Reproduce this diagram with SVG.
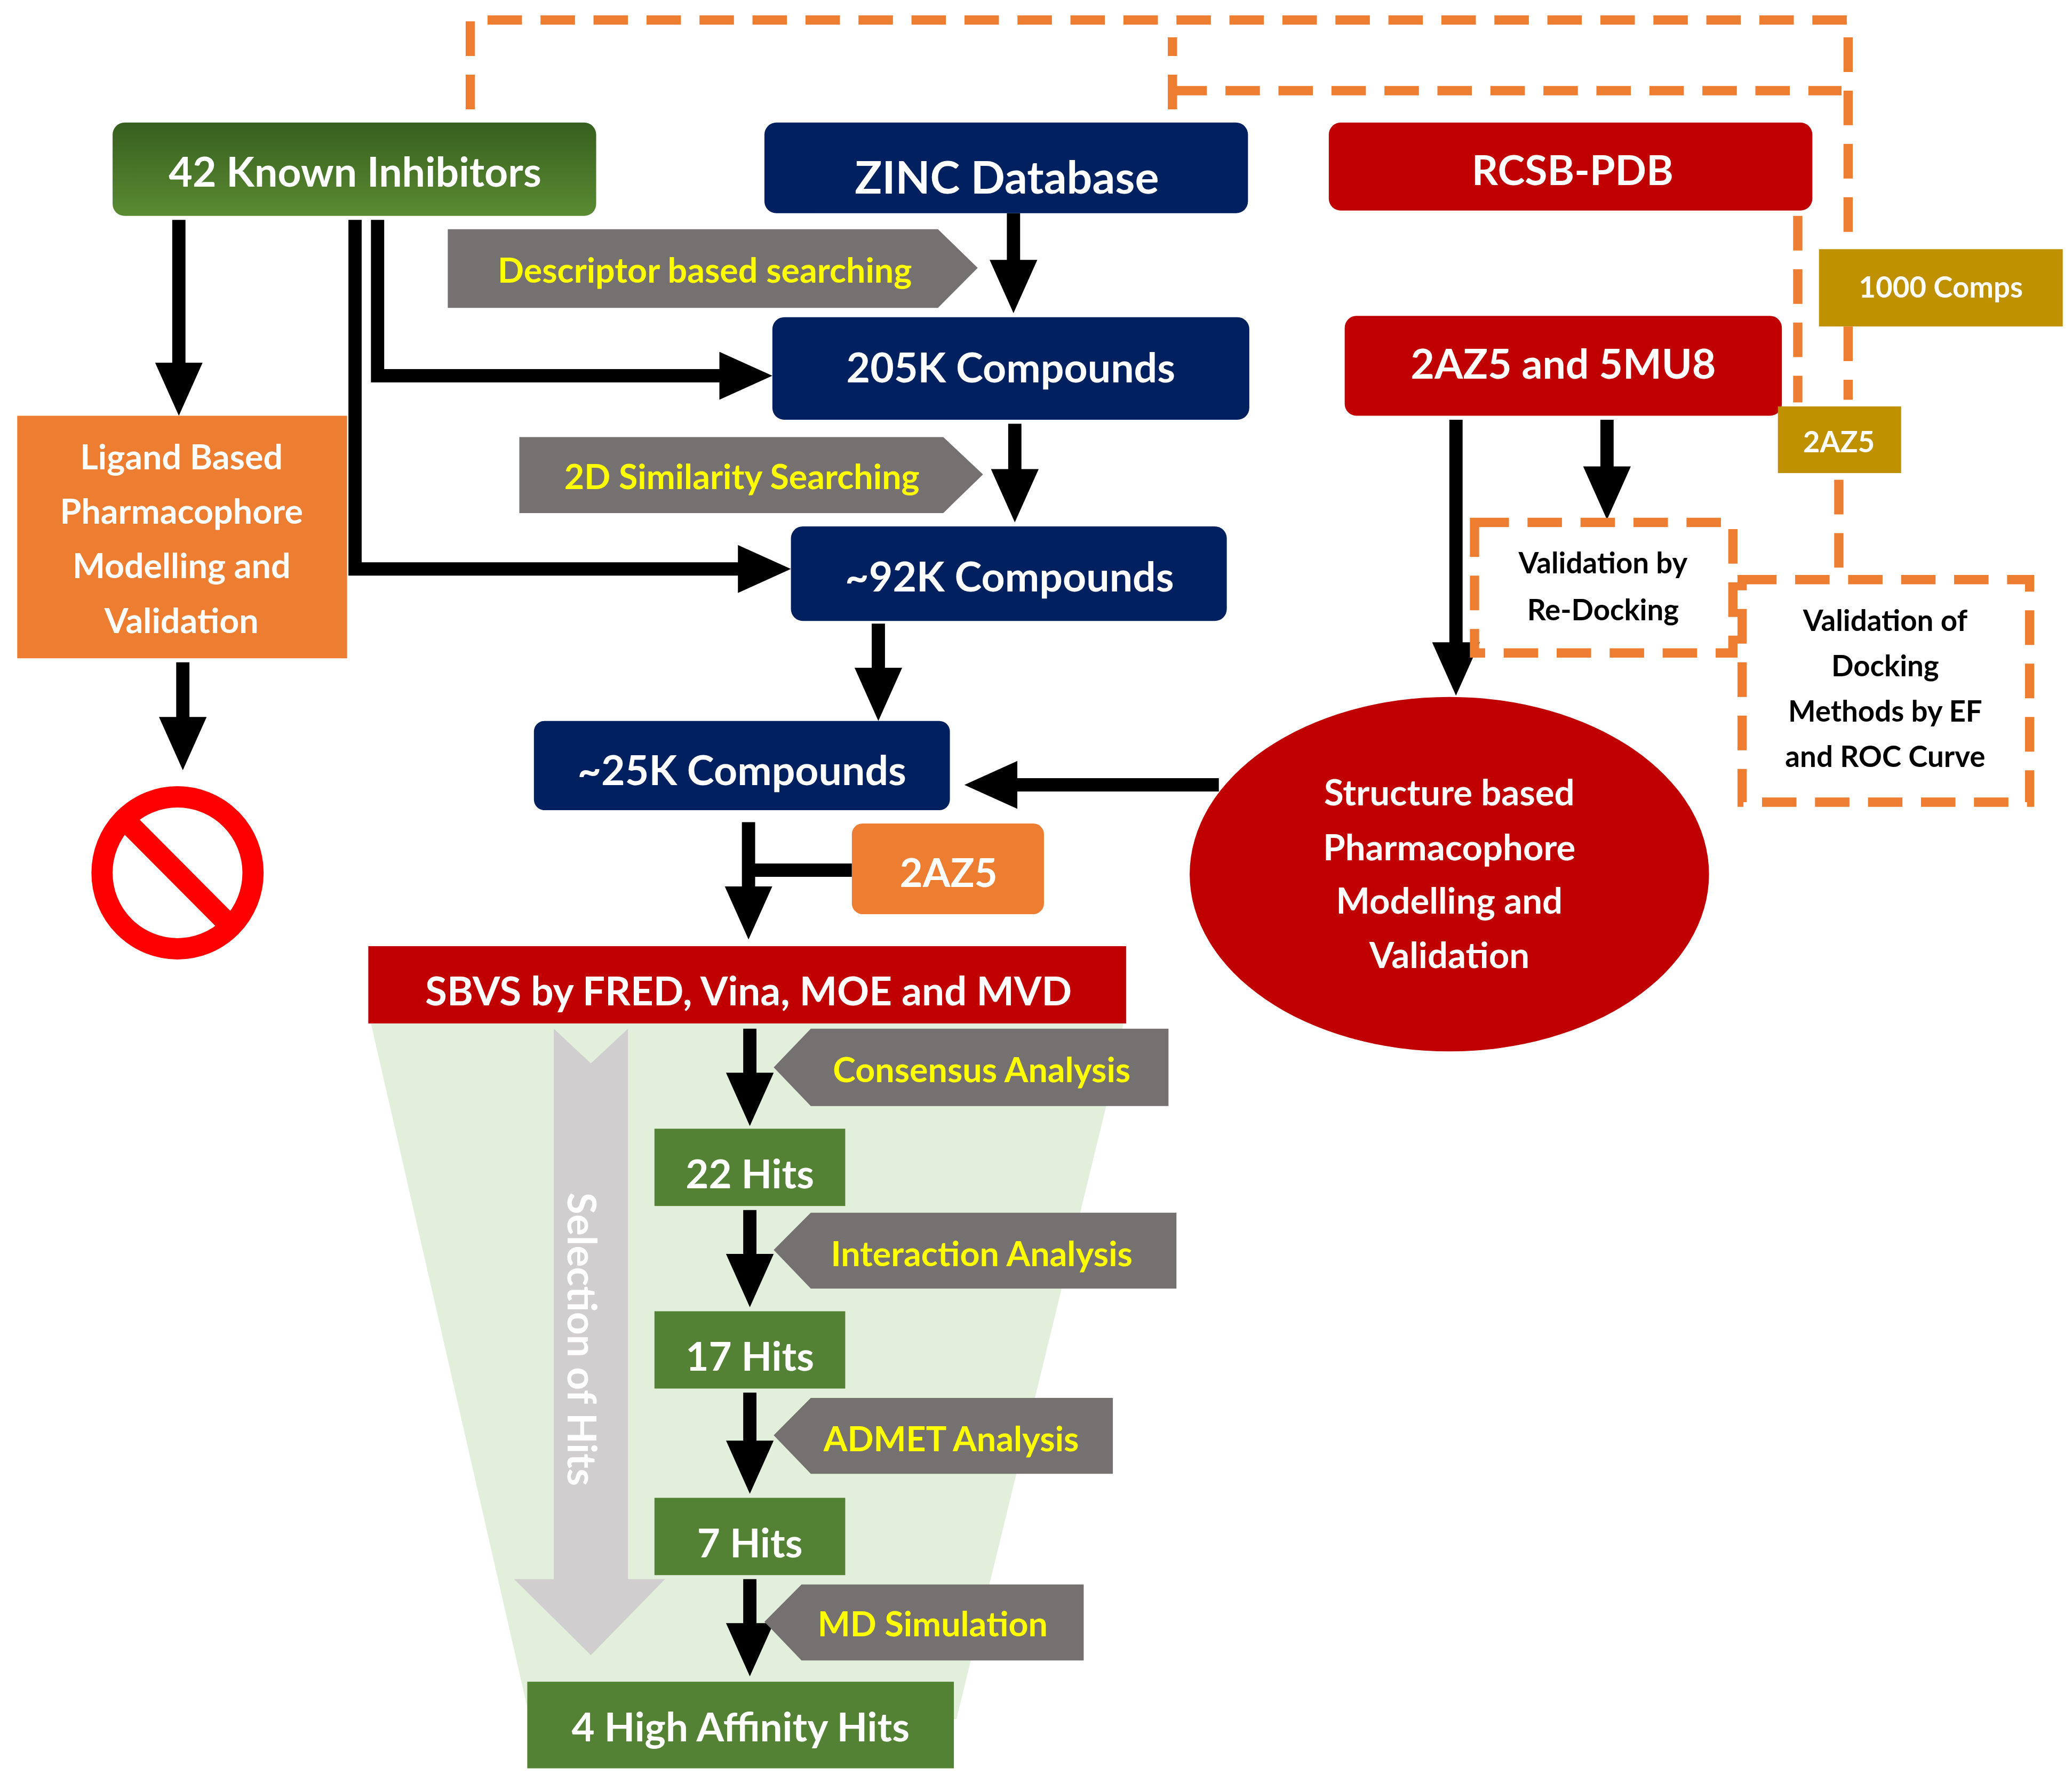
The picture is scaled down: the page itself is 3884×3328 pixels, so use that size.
<svg xmlns="http://www.w3.org/2000/svg" width="3884" height="3328" viewBox="0 0 3884 3328">
<defs>
<linearGradient id="gk" x1="0" y1="0" x2="0" y2="1"><stop offset="0" stop-color="#375F1F"/><stop offset="1" stop-color="#5A8B31"/></linearGradient>
<marker id="ah" markerUnits="userSpaceOnUse" viewBox="0 0 40 36" markerWidth="40" markerHeight="36" refX="20" refY="18" orient="auto"><path d="M0,0 L40,18 L0,36 Z" fill="#000"/></marker>
<style>
.t{font-family:Lato,"Open Sans","Liberation Sans",sans-serif;font-weight:bold;text-anchor:middle;dominant-baseline:central}
.w{fill:#fff}.y{fill:#FFFF00}.k{fill:#000}
.navy{fill:#002060}.red{fill:#C00000}.gold{fill:#BF9000}.org{fill:#ED7D31}.gry{fill:#767171}.grn{fill:#548235}
.c{stroke:#000;stroke-width:10;fill:none;marker-end:url(#ah)}
.d{stroke:#ED7D31;stroke-width:7;fill:none;stroke-dasharray:26,14}
</style>
</defs>
<rect width="3884" height="3328" fill="#fff"/>
<g transform="scale(2.4834 2.4985)">
<g id="funnel">
<polygon points="280,768 848,768 835,830 722,1290 400,1290" fill="#E2EFDA"/>
<polygon points="418,772 446,798 474,772 474,1185 502,1185 446,1242 388,1185 418,1185" fill="#D0CECE"/>
<text class="t w" font-size="30" transform="translate(440,1005) rotate(90)">Selection of Hits</text>
</g>
<g id="dashes">
<path class="d" d="M355,82 V15 H1395 V187"/>
<path class="d" d="M1395,245 V300"/>
<path class="d" d="M1388,360 V435"/>
<path class="d" d="M885,82 V28"/>
<path class="d" d="M885,68 H1390"/>
<path class="d" d="M1357,162 V302"/>
</g>
<g id="connectors">
<path class="c" d="M135,165 V292"/>
<path class="c" d="M138,497 V558"/>
<path class="c" d="M285,165 V282 H563"/>
<path class="c" d="M268,165 V427 H577"/>
<path class="c" d="M765,160 V215"/>
<path class="c" d="M766,318 V372"/>
<path class="c" d="M663,468 V521"/>
<path class="c" d="M920,589 H748"/>
<path class="c" d="M1099,315 V502"/>
<path class="c" d="M1213,315 V370"/>
<path class="c" d="M565,617 V685"/>
<path d="M643,653 H565" stroke="#000" stroke-width="10"/>
<path class="c" d="M566,772 V825"/>
<path class="c" d="M566,908 V961"/>
<path class="c" d="M566,1045 V1101"/>
<path class="c" d="M566,1185 V1238"/>
</g>
<g id="n42"><rect x="85" y="92" width="365" height="70" rx="9" fill="url(#gk)"/><text class="t w" x="268" y="128" font-size="31">42 Known Inhibitors</text></g>
<g id="zinc"><rect class="navy" x="577" y="92" width="365" height="68" rx="9"/><text class="t w" x="760" y="132" font-size="34">ZINC Database</text></g>
<g id="rcsb"><rect class="red" x="1003" y="92" width="365" height="66" rx="9"/><text class="t w" x="1187" y="127" font-size="31">RCSB-PDB</text></g>
<g id="desc"><polygon class="gry" points="338,172 708,172 738,201 708,231 338,231"/><text class="t y" x="532" y="202" font-size="26">Descriptor based searching</text></g>
<g id="c205"><rect class="navy" x="583" y="238" width="360" height="77" rx="9"/><text class="t w" x="763" y="275" font-size="31">205K Compounds</text></g>
<g id="pdb2"><rect class="red" x="1015" y="237" width="330" height="75" rx="9"/><text class="t w" x="1180" y="272" font-size="31">2AZ5 and 5MU8</text></g>
<g id="comps1000"><rect class="gold" x="1373" y="187" width="184" height="58"/><text class="t w" x="1465" y="215" font-size="22">1000 Comps</text></g>
<g id="az5a"><rect class="gold" x="1342" y="305" width="93" height="50"/><text class="t w" x="1388" y="331" font-size="22">2AZ5</text></g>
<g id="sim2d"><polygon class="gry" points="392,328 712,328 742,356 712,385 392,385"/><text class="t y" x="560" y="357" font-size="26">2D Similarity Searching</text></g>
<g id="c92"><rect class="navy" x="597" y="395" width="329" height="71" rx="9"/><text class="t w" x="762" y="432" font-size="31">~92K Compounds</text></g>
<g id="ligand"><rect class="org" x="13" y="312" width="249" height="182"/>
<text class="t w" font-size="26"><tspan x="137" y="342">Ligand Based</tspan><tspan x="137" y="383">Pharmacophore</tspan><tspan x="137" y="424">Modelling and</tspan><tspan x="137" y="465">Validation</tspan></text></g>
<g id="nosign"><circle cx="134" cy="655" r="57" fill="none" stroke="#FF0000" stroke-width="16"/><line x1="94" y1="615" x2="174" y2="695" stroke="#FF0000" stroke-width="16"/></g>
<g id="redock"><rect x="1113" y="392" width="195" height="98" fill="#fff" class="d"/><text class="t k" font-size="22"><tspan x="1210" y="422">Validation by</tspan><tspan x="1210" y="457">Re-Docking</tspan></text></g>
<g id="valdock"><rect x="1315" y="435" width="217" height="167" fill="#fff" class="d"/><text class="t k" font-size="22"><tspan x="1423" y="465">Validation of</tspan><tspan x="1423" y="499">Docking</tspan><tspan x="1423" y="533">Methods by EF</tspan><tspan x="1423" y="567">and ROC Curve</tspan></text></g>
<g id="c25"><rect class="navy" x="403" y="541" width="314" height="67" rx="8"/><text class="t w" x="560" y="577" font-size="31">~25K Compounds</text></g>
<g id="sbpm"><ellipse class="red" cx="1094" cy="656" rx="196" ry="133"/>
<text class="t w" font-size="27"><tspan x="1094" y="594">Structure based</tspan><tspan x="1094" y="635">Pharmacophore</tspan><tspan x="1094" y="675">Modelling and</tspan><tspan x="1094" y="716">Validation</tspan></text></g>
<g id="az5b"><rect class="org" x="643" y="618" width="145" height="68" rx="8"/><text class="t w" x="716" y="654" font-size="30">2AZ5</text></g>
<g id="sbvs"><rect class="red" x="278" y="710" width="572" height="58"/><text class="t w" x="565" y="743" font-size="30">SBVS by FRED, Vina, MOE and MVD</text></g>
<g id="cons"><polygon class="gry" points="612,772 882,772 882,830 612,830 584,801"/><text class="t y" x="741" y="802" font-size="26">Consensus Analysis</text></g>
<g id="h22"><rect class="grn" x="494" y="847" width="144" height="58"/><text class="t w" x="566" y="880" font-size="30">22 Hits</text></g>
<g id="inter"><polygon class="gry" points="612,910 888,910 888,967 612,967 584,938"/><text class="t y" x="741" y="940" font-size="26">Interaction Analysis</text></g>
<g id="h17"><rect class="grn" x="494" y="984" width="144" height="58"/><text class="t w" x="566" y="1017" font-size="30">17 Hits</text></g>
<g id="admet"><polygon class="gry" points="612,1049 840,1049 840,1106 612,1106 584,1077"/><text class="t y" x="718" y="1079" font-size="26">ADMET Analysis</text></g>
<g id="h7"><rect class="grn" x="494" y="1124" width="144" height="58"/><text class="t w" x="566" y="1157" font-size="30">7 Hits</text></g>
<g id="md"><polygon class="gry" points="605,1189 818,1189 818,1246 605,1246 577,1217"/><text class="t y" x="704" y="1218" font-size="26">MD Simulation</text></g>
<g id="h4"><rect class="grn" x="398" y="1262" width="322" height="65"/><text class="t w" x="559" y="1295" font-size="30">4 High Affinity Hits</text></g>
</g>
</svg>
